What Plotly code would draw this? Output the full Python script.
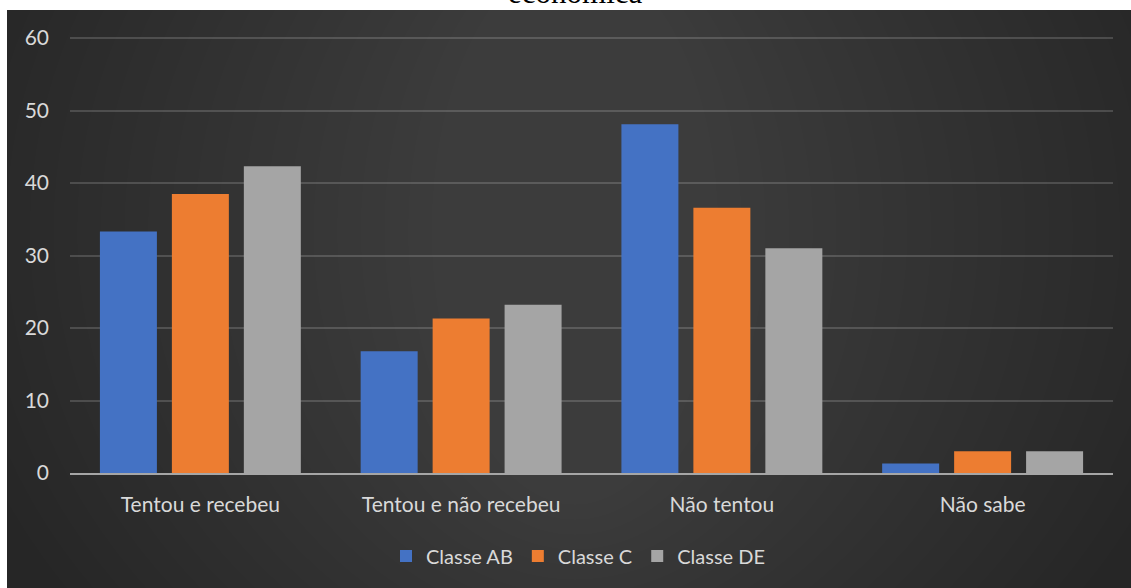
import plotly.graph_objects as go

categories = ["Tentou e recebeu", "Tentou e não recebeu", "Não tentou", "Não sabe"]
series_names = ["Classe AB", "Classe C", "Classe DE"]
classe_ab = [33.3, 16.8, 48.1, 1.3]
classe_c = [38.5, 21.3, 36.6, 3.0]
classe_de = [42.3, 23.2, 31.0, 3.0]
y_ticks = [0, 10, 20, 30, 40, 50, 60]
title_text = "econômica"

colors = ["#4472C4", "#ED7D31", "#A5A5A5"]

W, H = 1131, 588
L, R, T, B = 70, 18, 31, 115
pw = W - L - R
ph = H - T - B
ytop = 60 + (38 - T) / 7.25

def px_x(x):
    return (x - L) / pw

def px_y(y):
    return (H - B - y) / ph

fig = go.Figure()
for name, vals, col in zip(series_names, [classe_ab, classe_c, classe_de], colors):
    fig.add_trace(go.Bar(x=categories, y=vals, name=name,
                         marker=dict(color=col, line=dict(width=0))))

shapes = [dict(type="rect", xref="paper", yref="paper", layer="below",
               x0=px_x(7), x1=px_x(W + 5), y0=px_y(H + 5), y1=px_y(10),
               fillcolor="#262626", line=dict(width=0))]
cx, cy = 575, 230
n = 22
for i in range(n):
    f = 1 - i / n
    rx = 120 + 520 * f
    ry = 260 + 330 * f
    shapes.append(dict(type="circle", xref="paper", yref="paper", layer="below",
                       x0=px_x(cx - rx), x1=px_x(cx + rx),
                       y0=px_y(cy + ry), y1=px_y(cy - ry),
                       fillcolor="rgba(255,255,255,0.0095)", line=dict(width=0)))
shapes.append(dict(type="rect", xref="paper", yref="paper", layer="below",
                   x0=px_x(-20), x1=px_x(W + 20), y0=px_y(10), y1=px_y(-400),
                   fillcolor="white", line=dict(width=0)))
shapes.append(dict(type="rect", xref="paper", yref="paper", layer="below",
                   x0=px_x(-400), x1=px_x(7), y0=px_y(H + 400), y1=px_y(-400),
                   fillcolor="white", line=dict(width=0)))

fig.update_layout(
    width=W, height=H,
    margin=dict(l=L, r=R, t=T, b=B, pad=0),
    paper_bgcolor="white",
    plot_bgcolor="rgba(0,0,0,0)",
    barmode="group",
    bargap=0.172,
    bargroupgap=0.208,
    shapes=shapes,
    font=dict(family="Lato", color="#d9d9d9"),
    showlegend=True,
    legend=dict(orientation="h", x=px_x(578), xanchor="center",
                y=px_y(556), yanchor="middle",
                font=dict(size=20, color="#d9d9d9"),
                bgcolor="rgba(0,0,0,0)", itemwidth=30,
                traceorder="normal"),
    annotations=[dict(text=title_text, xref="paper", yref="paper",
                      x=px_x(575), y=px_y(12), xanchor="center", yanchor="bottom",
                      showarrow=False,
                      font=dict(family="Liberation Serif", size=31, color="black"))],
)
fig.update_yaxes(range=[0, ytop], tickvals=y_ticks, showgrid=True,
                 gridcolor="rgba(255,255,255,0.16)", gridwidth=1.5,
                 zeroline=False, showline=False,
                 tickfont=dict(size=21, color="#d9d9d9"), ticks="", ticklabelstandoff=20)
fig.update_xaxes(showline=True, linecolor="#a6a6a6", linewidth=2,
                 tickfont=dict(size=21, color="#d9d9d9"), ticks="",
                 ticklabelstandoff=12)

fig.write_html("out.html", config={"displayModeBar": False},
               post_script="document.body.style.margin='0px';document.body.style.overflow='hidden';")
